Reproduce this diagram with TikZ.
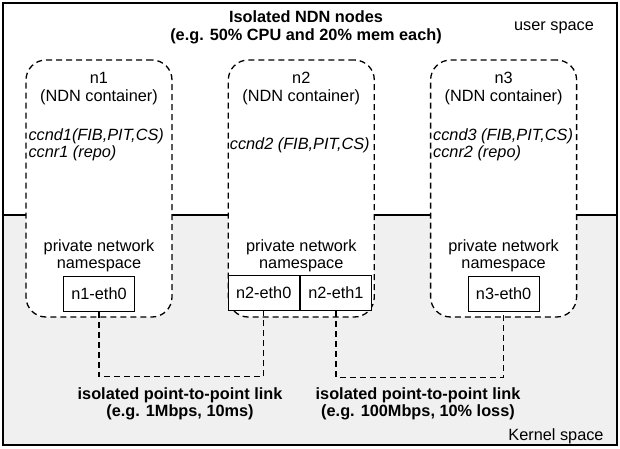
\documentclass[tikz,border=0pt]{standalone}
\usepackage{fontspec}
\setmainfont{Liberation Sans}
\usetikzlibrary{positioning}
\tikzset{
  container/.style={draw,dash pattern=on 6pt off 4pt,line width=1.3pt,rounded corners=20pt,
    fill=white,minimum width=146pt,minimum height=257pt,inner sep=0pt},
  iface/.style={draw,line width=1.2pt,fill=white,minimum width=71pt,minimum height=35pt,
    inner sep=0pt,font=\fontsize{16.3}{17.5}\selectfont},
  link/.style={dash pattern=on 6pt off 4pt,line width=1.3pt},
  txt/.style={inner sep=0pt,align=center,font=\fontsize{16.3}{17.5}\selectfont},
  boldtxt/.style={txt,font=\fontsize{16.3}{17.5}\selectfont\bfseries},
  itxt/.style={txt,align=left,anchor=west,font=\fontsize{16.3}{17.5}\selectfont\itshape},
}
\begin{document}
\begin{tikzpicture}[x=1pt,y=-1pt]
      \useasboundingbox (0,0) rectangle (620,448);
      %% user space / kernel space
      \fill[gray!12] (3,215) rectangle (617,445);
      \draw[line width=1.3pt] (3,215) -- (617,215);
      \draw[line width=1.5pt] (3,3) rectangle (617,445);
      \node[boldtxt] (title) at (306,27.5) {Isolated NDN nodes\\(e.g. 50\% CPU and 20\% mem each)};
      \node[txt] (us) at (554,28) {user space};
      \node[txt] (ks) at (556,436) {Kernel space};
      %% Containers
      \node[container] (n1) at (99,188.5) {};
      \node[container,right=55pt of n1] (n2) {};
      \node[container,right=55pt of n2] (n3) {};
      \node[txt] at ([yshift=-29pt]n1.north) {n1\\(NDN container)};
      \node[txt] at ([yshift=-29pt]n2.north) {n2\\(NDN container)};
      \node[txt] at ([yshift=-29pt]n3.north) {n3\\(NDN container)};
      \node[itxt] at ([xshift=3pt,yshift=-85.5pt]n1.north west) {ccnd1(FIB,PIT,CS)\\ccnr1 (repo)};
      \node[itxt] at ([xshift=2pt,yshift=-86pt]n2.north west) {ccnd2 (FIB,PIT,CS)};
      \node[itxt] at ([xshift=3pt,yshift=-85.5pt]n3.north west) {ccnd3 (FIB,PIT,CS)\\ccnr2 (repo)};
      \node[txt] at ([yshift=62pt]n1.south) {private network\\namespace};
      \node[txt] at ([yshift=62pt]n2.south) {private network\\namespace};
      \node[txt] at ([yshift=62pt]n3.south) {private network\\namespace};
      %% Interfaces
      \node[iface] (e1) at ([yshift=24pt]n1.south) {n1-eth0};
      \node[iface,anchor=east] (e2) at ([xshift=-1.5pt,yshift=24.5pt]n2.south) {n2-eth0};
      \node[iface,right=0pt of e2] (e3) {n2-eth1};
      \node[iface] (e4) at ([yshift=24pt]n3.south) {n3-eth0};
      %% Links
      \coordinate (k1) at ([yshift=-65pt]e1.south);
      \coordinate (k2) at ([yshift=-66pt]e3.south);
      \draw[link] (e1.south) -- (k1) -| (e2.south);
      \draw[link] (e3.south) -- (k2) -| (e4.south);
      \node[boldtxt] (l1) at (180,404) {isolated point-to-point link\\(e.g. 1Mbps, 10ms)};
      \node[boldtxt] (l2) at (418,404) {isolated point-to-point link\\(e.g. 100Mbps, 10\% loss)};
    \end{tikzpicture}
\end{document}
